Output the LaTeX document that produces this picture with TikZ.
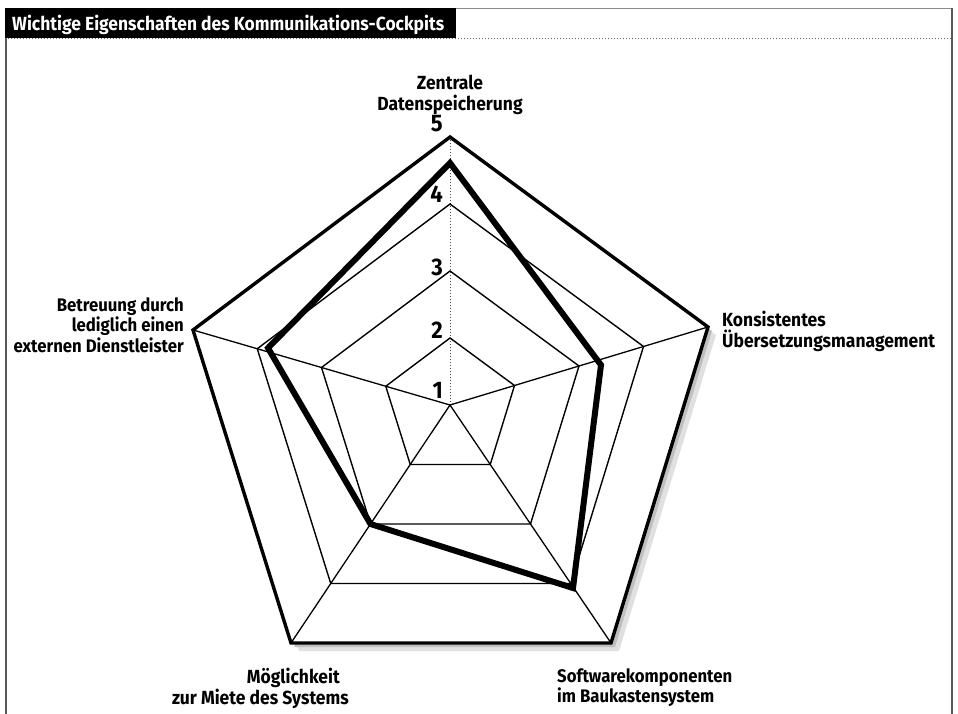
\documentclass[tikz,border=0pt]{standalone}
\usepackage{fontspec}
\setmainfont{Fira Sans}[FakeStretch=0.92]
\usetikzlibrary{calc}
\begin{document}
\begin{tikzpicture}[x=1pt,y=-1pt,
  ring/.style={line width=1.4pt, line join=miter},
  outer/.style={line width=3.4pt, line join=miter},
  datapoly/.style={line width=6pt, line join=miter, miter limit=10},
  spoke/.style={line width=1.3pt},
  lbl/.style={font=\fontsize{19}{20.5}\selectfont\bfseries, inner sep=0pt},
  lblsmall/.style={font=\fontsize{18.2}{20.5}\selectfont\bfseries, inner sep=0pt},
  num/.style={font=\fontsize{24}{24}\selectfont\bfseries, inner sep=0pt, anchor=base east},
  frameline/.style={draw=black!65, line width=1.5pt},
]
\useasboundingbox (0,0) rectangle (958,714);
% frame
\draw[black!60, dotted, line width=1pt] (5,38.5) -- (952,38.5);
\fill[black] (5,8) rectangle (456,38);
\node[lbl, text=white, anchor=base west] (title) at (12,31) {Wichtige Eigenschaften des Kommunikations-Cockpits};
\draw[black!45, line width=0.8pt] (456,8) -- (952,8);
\draw[frameline] (6,38) -- (6,714);
\draw[frameline] (952,8) -- (952,714);
% geometry
\coordinate (C) at (450,405);
\coordinate (V1) at (450,137);
\coordinate (V2) at (708,327);
\coordinate (V3) at (611,643);
\coordinate (V4) at (291,643);
\coordinate (V5) at (193,330);
\foreach \k in {1,...,5}{
  \foreach \l/\f in {2/0.25,3/0.5,4/0.75}{
    \coordinate (R\l-\k) at ($(C)!\f!(V\k)$);
  }
}
% shadow
\fill[black!12] ($(V1)+(8,8)$) -- ($(V2)+(8,8)$) -- ($(V3)+(8,8)$) -- ($(V4)+(8,8)$) -- ($(V5)+(8,8)$) -- cycle;
\fill[black!25] ($(V1)+(4,4)$) -- ($(V2)+(4,4)$) -- ($(V3)+(4,4)$) -- ($(V4)+(4,4)$) -- ($(V5)+(4,4)$) -- cycle;
\fill[white] (V1) -- (V2) -- (V3) -- (V4) -- (V5) -- cycle;
% spokes
\draw[black!70, dotted, line width=1pt] (C) -- (V1);
\foreach \k in {2,...,5}{ \draw[spoke] (C) -- (V\k); }
% rings
\foreach \l in {2,3,4}{
  \draw[ring] (R\l-1) -- (R\l-2) -- (R\l-3) -- (R\l-4) -- (R\l-5) -- cycle;
}
\draw[outer] (V1) -- (V2) -- (V3) -- (V4) -- (V5) -- cycle;
% data
\coordinate (D1) at (450,163);
\coordinate (D2) at (601,365);
\coordinate (D3) at (573,588);
\coordinate (D5) at (268,348);
\draw[datapoly] (D1) -- (D2) -- (D3) -- (R3-4) -- (D5) -- cycle;
% scale numbers
\node[num] (n5) at (443,132) {5};
\node[num] (n4) at (443,203) {4};
\node[num] (n3) at (443,275) {3};
\node[num] (n2) at (443,338) {2};
\node[num] (n1) at (443,398) {1};
% axis labels
\node[lbl, align=center, anchor=north] (l1) at (450,75) {Zentrale\\Datenspeicherung};
\node[lbl, align=left, anchor=north west] (l2) at (722,311) {Konsistentes\\Übersetzungsmanagement};
\node[lblsmall, align=left, anchor=north west] (l3) at (557,668) {Softwarekomponenten\\im Baukastensystem};
\node[lbl, align=right, anchor=north east] (l4) at (349,668) {Möglichkeit\hspace*{9pt}\\zur Miete des Systems};
\node[lblsmall, align=right, anchor=north east] (l5) at (184,297) {Betreuung durch\\lediglich einen\\externen Dienstleister};
\end{tikzpicture}
\end{document}
